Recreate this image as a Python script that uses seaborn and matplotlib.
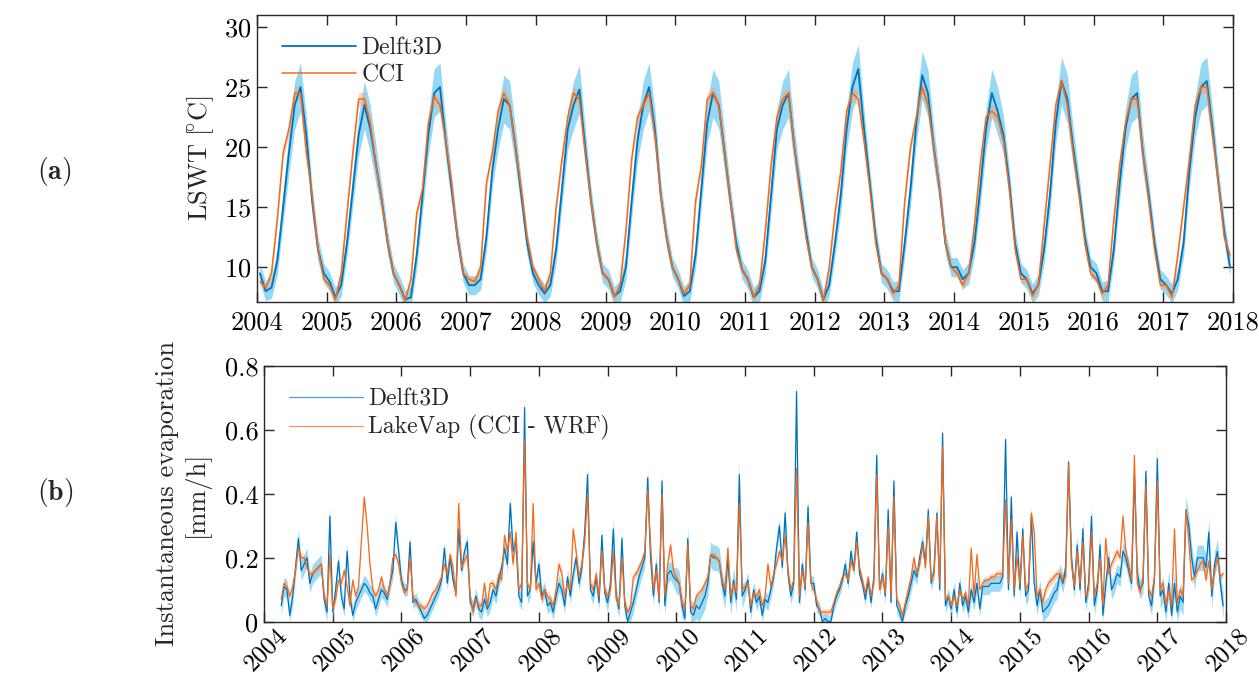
import matplotlib
matplotlib.use("Agg")
import matplotlib.pyplot as plt
import matplotlib.transforms as mtransforms
import pandas as pd
import seaborn as sns

# ---- data ----
years = list(range(2004, 2019))

# LSWT, monthly values Jan..Dec, 2004-2017
lswt_delft3d = [
    9.5, 8.0, 8.3, 10.5, 15.0, 19.5, 23.5, 25.0, 21.0, 15.5, 11.5, 9.5,   # 2004
    8.8, 7.5, 8.5, 12.0, 16.5, 21.0, 23.5, 21.5, 18.5, 15.5, 12.0, 9.5,   # 2005
    8.5, 7.3, 7.5, 11.0, 16.0, 21.0, 24.5, 25.0, 20.5, 16.5, 12.5, 9.5,   # 2006
    8.5, 8.5, 9.0, 12.5, 18.0, 21.5, 24.0, 23.5, 20.0, 16.0, 12.0, 9.5,   # 2007
    8.5, 7.8, 8.5, 11.5, 16.5, 21.5, 23.5, 24.8, 20.0, 15.5, 12.0, 9.5,   # 2008
    9.0, 7.6, 8.0, 10.0, 15.5, 20.5, 23.5, 25.0, 21.5, 16.0, 12.5, 10.0,  # 2009
    9.0, 7.6, 8.0, 11.0, 16.5, 22.0, 24.5, 23.5, 19.5, 15.5, 12.0, 9.8,   # 2010
    9.0, 7.5, 8.0, 10.5, 16.0, 21.5, 23.5, 24.5, 20.0, 16.5, 13.0, 10.0,  # 2011
    9.0, 7.3, 8.5, 12.0, 16.0, 21.5, 25.0, 26.5, 21.5, 17.0, 12.5, 9.5,   # 2012
    9.0, 8.0, 8.0, 12.0, 16.5, 22.0, 26.0, 24.5, 20.0, 16.5, 12.0, 10.0,  # 2013
    10.0, 9.0, 9.5, 12.0, 16.5, 21.5, 24.5, 23.0, 21.0, 17.0, 12.0, 9.5,  # 2014
    9.0, 7.8, 8.5, 11.5, 16.0, 22.0, 25.5, 24.0, 20.0, 16.5, 12.5, 10.0,  # 2015
    9.5, 8.0, 8.0, 11.5, 17.0, 21.5, 24.0, 24.5, 19.5, 16.0, 12.0, 9.0,   # 2016
    8.5, 7.8, 9.0, 12.0, 18.0, 22.5, 25.0, 25.5, 21.5, 17.0, 13.0, 10.0,  # 2017
]
lswt_cci = [
    8.8, 8.3, 9.5, 14.0, 19.5, 21.5, 24.5, 24.5, 19.5, 16.0, 11.5, 9.0,   # 2004
    8.5, 7.3, 9.5, 14.5, 19.5, 24.0, 24.0, 22.0, 18.5, 15.5, 12.0, 9.5,   # 2005
    8.5, 7.2, 9.0, 14.5, 16.5, 22.0, 24.2, 23.5, 20.5, 17.0, 12.5, 9.5,   # 2006
    9.0, 8.8, 10.0, 17.0, 19.5, 23.0, 24.5, 23.5, 20.0, 16.5, 12.5, 10.0, # 2007
    9.0, 8.0, 9.5, 15.0, 19.0, 22.5, 24.5, 24.0, 19.5, 15.5, 12.0, 9.5,   # 2008
    9.0, 7.5, 8.5, 13.0, 19.0, 22.5, 23.5, 24.5, 21.0, 16.0, 12.5, 10.0,  # 2009
    9.0, 7.8, 8.5, 15.5, 18.5, 24.0, 24.5, 23.5, 19.5, 15.5, 11.5, 9.8,   # 2010
    9.0, 7.5, 8.5, 13.0, 18.5, 22.5, 24.0, 24.5, 20.0, 16.0, 12.5, 10.0,  # 2011
    9.0, 7.2, 10.0, 14.5, 18.0, 23.0, 24.5, 24.0, 20.5, 16.5, 12.0, 9.5,  # 2012
    9.0, 7.8, 8.5, 15.5, 20.0, 22.5, 25.0, 23.5, 20.0, 16.5, 12.0, 10.0,  # 2013
    9.5, 8.5, 9.5, 13.5, 18.5, 22.5, 23.0, 22.5, 20.5, 16.5, 11.5, 9.0,   # 2014
    9.0, 7.6, 8.5, 13.5, 18.5, 23.5, 25.5, 23.5, 19.5, 16.0, 12.0, 9.5,   # 2015
    9.0, 7.8, 8.5, 14.0, 18.5, 22.0, 24.0, 24.0, 19.5, 15.5, 11.5, 8.5,   # 2016
    8.5, 7.5, 11.0, 15.0, 19.0, 23.5, 25.0, 25.0, 21.0, 17.0, 12.5, 11.0, # 2017
]
# half-width of the shaded range, by calendar month
lswt_spread_delft3d = [0.8, 0.8, 0.9, 1.1, 1.4, 1.7, 2.0, 2.0, 1.6, 1.2, 1.0, 0.8]
lswt_spread_cci = [0.3, 0.4, 0.5, 0.5, 0.5, 0.5, 0.6, 0.5, 0.4, 0.4, 0.3, 0.3]

# evaporation [mm/h], half-monthly values from April 2004 to end of 2017
evap_delft3d = [
    0.05, 0.11, 0.10, 0.02, 0.08, 0.17, 0.26, 0.16, 0.18, 0.20, 0.12, 0.15, 0.16, 0.17, 0.18, 0.07, 0.03, 0.33,  # 2004
    0.03, 0.10, 0.19, 0.08, 0.04, 0.22, 0.08, 0.02, 0.06, 0.08, 0.10, 0.12, 0.11, 0.09, 0.08, 0.04, 0.07, 0.10, 0.09, 0.07, 0.12, 0.16, 0.31, 0.22,  # 2005
    0.13, 0.10, 0.10, 0.25, 0.06, 0.07, 0.05, 0.03, 0.01, 0.02, 0.04, 0.06, 0.08, 0.10, 0.13, 0.23, 0.12, 0.20, 0.13, 0.09, 0.29, 0.16, 0.22, 0.25,  # 2006
    0.06, 0.04, 0.08, 0.04, 0.03, 0.07, 0.04, 0.06, 0.10, 0.08, 0.13, 0.17, 0.23, 0.18, 0.37, 0.22, 0.25, 0.08, 0.06, 0.67, 0.08, 0.10, 0.25, 0.12,  # 2007
    0.18, 0.08, 0.10, 0.05, 0.06, 0.03, 0.08, 0.12, 0.10, 0.05, 0.14, 0.08, 0.15, 0.20, 0.12, 0.17, 0.28, 0.46, 0.10, 0.08, 0.14, 0.06, 0.27, 0.09,  # 2008
    0.06, 0.12, 0.29, 0.08, 0.04, 0.26, 0.05, 0.00, 0.03, 0.06, 0.10, 0.14, 0.17, 0.20, 0.45, 0.20, 0.08, 0.18, 0.06, 0.44, 0.05, 0.15, 0.16, 0.14,  # 2009
    0.13, 0.12, 0.05, 0.01, 0.26, 0.03, 0.02, 0.05, 0.04, 0.06, 0.08, 0.12, 0.21, 0.20, 0.20, 0.19, 0.12, 0.08, 0.20, 0.06, 0.13, 0.07, 0.46, 0.08,  # 2010
    0.10, 0.13, 0.03, 0.10, 0.06, 0.08, 0.02, 0.07, 0.06, 0.10, 0.14, 0.23, 0.30, 0.17, 0.34, 0.15, 0.08, 0.12, 0.72, 0.06, 0.18, 0.10, 0.36, 0.12,  # 2011
    0.12, 0.05, 0.04, 0.00, 0.01, 0.00, 0.00, 0.05, 0.08, 0.10, 0.13, 0.18, 0.12, 0.22, 0.16, 0.28, 0.15, 0.12, 0.07, 0.13, 0.06, 0.14, 0.52, 0.10,  # 2012
    0.15, 0.08, 0.35, 0.06, 0.44, 0.05, 0.03, 0.00, 0.05, 0.08, 0.12, 0.16, 0.14, 0.20, 0.25, 0.18, 0.35, 0.12, 0.16, 0.34, 0.10, 0.59, 0.05, 0.08,  # 2013
    0.04, 0.10, 0.03, 0.12, 0.05, 0.08, 0.03, 0.10, 0.06, 0.12, 0.04, 0.11, 0.11, 0.11, 0.12, 0.12, 0.12, 0.12, 0.14, 0.57, 0.10, 0.39, 0.08, 0.28,  # 2014
    0.10, 0.29, 0.08, 0.10, 0.33, 0.12, 0.05, 0.10, 0.03, 0.04, 0.05, 0.07, 0.09, 0.10, 0.15, 0.12, 0.17, 0.50, 0.20, 0.10, 0.24, 0.10, 0.29, 0.06,  # 2015
    0.12, 0.33, 0.05, 0.10, 0.24, 0.02, 0.12, 0.20, 0.10, 0.12, 0.15, 0.14, 0.22, 0.20, 0.16, 0.12, 0.46, 0.15, 0.10, 0.12, 0.47, 0.08, 0.05, 0.14,  # 2016
    0.51, 0.08, 0.10, 0.03, 0.12, 0.02, 0.12, 0.03, 0.08, 0.06, 0.35, 0.30, 0.20, 0.14, 0.20, 0.20, 0.20, 0.17, 0.28, 0.08, 0.18, 0.22, 0.12, 0.05,  # 2017
]
evap_lakevap = [
    0.07, 0.12, 0.11, 0.08, 0.11, 0.16, 0.23, 0.20, 0.20, 0.17, 0.15, 0.15, 0.16, 0.17, 0.18, 0.08, 0.05, 0.21,  # 2004
    0.04, 0.07, 0.13, 0.12, 0.16, 0.11, 0.05, 0.13, 0.08, 0.11, 0.25, 0.39, 0.30, 0.18, 0.10, 0.08, 0.10, 0.14, 0.10, 0.08, 0.12, 0.20, 0.21, 0.18,  # 2005
    0.12, 0.09, 0.10, 0.20, 0.08, 0.06, 0.05, 0.05, 0.04, 0.05, 0.07, 0.09, 0.10, 0.12, 0.14, 0.18, 0.15, 0.21, 0.17, 0.08, 0.37, 0.17, 0.19, 0.21,  # 2006
    0.08, 0.03, 0.07, 0.05, 0.05, 0.12, 0.05, 0.12, 0.12, 0.10, 0.15, 0.13, 0.27, 0.22, 0.28, 0.18, 0.28, 0.10, 0.12, 0.57, 0.12, 0.10, 0.37, 0.10,  # 2007
    0.12, 0.07, 0.10, 0.08, 0.07, 0.05, 0.10, 0.18, 0.15, 0.08, 0.12, 0.10, 0.29, 0.22, 0.14, 0.18, 0.25, 0.40, 0.12, 0.10, 0.15, 0.08, 0.22, 0.10,  # 2008
    0.08, 0.10, 0.22, 0.07, 0.05, 0.20, 0.06, 0.03, 0.05, 0.14, 0.15, 0.17, 0.19, 0.22, 0.41, 0.24, 0.10, 0.16, 0.07, 0.40, 0.08, 0.18, 0.24, 0.16,  # 2009
    0.14, 0.12, 0.06, 0.04, 0.24, 0.05, 0.04, 0.08, 0.09, 0.10, 0.12, 0.14, 0.21, 0.21, 0.20, 0.19, 0.13, 0.10, 0.23, 0.08, 0.12, 0.09, 0.37, 0.10,  # 2010
    0.11, 0.12, 0.05, 0.09, 0.08, 0.10, 0.05, 0.08, 0.18, 0.11, 0.15, 0.18, 0.22, 0.19, 0.27, 0.16, 0.10, 0.13, 0.48, 0.08, 0.16, 0.11, 0.31, 0.12,  # 2011
    0.10, 0.07, 0.03, 0.03, 0.03, 0.03, 0.03, 0.06, 0.09, 0.11, 0.14, 0.15, 0.13, 0.19, 0.16, 0.25, 0.17, 0.13, 0.09, 0.14, 0.08, 0.12, 0.46, 0.10,  # 2012
    0.14, 0.09, 0.30, 0.08, 0.39, 0.07, 0.05, 0.02, 0.06, 0.10, 0.14, 0.20, 0.15, 0.18, 0.24, 0.17, 0.33, 0.13, 0.15, 0.33, 0.12, 0.55, 0.07, 0.08,  # 2013
    0.05, 0.08, 0.05, 0.10, 0.07, 0.09, 0.05, 0.23, 0.08, 0.21, 0.10, 0.12, 0.13, 0.13, 0.14, 0.14, 0.15, 0.15, 0.15, 0.38, 0.12, 0.32, 0.10, 0.20,  # 2014
    0.12, 0.27, 0.10, 0.12, 0.34, 0.28, 0.08, 0.10, 0.06, 0.10, 0.12, 0.13, 0.14, 0.15, 0.15, 0.13, 0.14, 0.49, 0.18, 0.11, 0.22, 0.12, 0.25, 0.08,  # 2015
    0.10, 0.28, 0.08, 0.12, 0.20, 0.05, 0.26, 0.15, 0.18, 0.20, 0.22, 0.20, 0.33, 0.22, 0.18, 0.13, 0.52, 0.12, 0.09, 0.14, 0.43, 0.10, 0.08, 0.14,  # 2016
    0.44, 0.10, 0.12, 0.05, 0.10, 0.05, 0.29, 0.06, 0.10, 0.08, 0.35, 0.25, 0.13, 0.14, 0.16, 0.18, 0.19, 0.13, 0.19, 0.10, 0.16, 0.20, 0.14, 0.15,  # 2017
]
# half-width of the shaded range, by year 2004..2017
evap_spread_delft3d = [0.03, 0.025, 0.02, 0.025, 0.025, 0.03, 0.04, 0.025, 0.02, 0.025, 0.025, 0.03, 0.03, 0.04]
evap_spread_lakevap = [0.012, 0.012, 0.012, 0.012, 0.015, 0.015, 0.012, 0.012, 0.01, 0.012, 0.012, 0.015, 0.015, 0.012]

BLUE = "#0072BD"
BLUE_BAND = "#4DBEEE"
ORANGE = "#F26A1B"
ORANGE_BAND = "#F8A46E"


def band_frame(t, vals, spreads):
    # three samples per time step -> median line + min/max band in seaborn
    rows = []
    for ti, v, s in zip(t, vals, spreads):
        for d in (-s, 0.0, s):
            rows.append((ti, max(v + d, 0.0)))
    return pd.DataFrame(rows, columns=["t", "v"])


t_month = [2004 + (i + 0.5) / 12 for i in range(len(lswt_delft3d))]
df_lswt_d = band_frame(t_month, lswt_delft3d, [lswt_spread_delft3d[i % 12] for i in range(len(t_month))])
df_lswt_c = band_frame(t_month, lswt_cci, [lswt_spread_cci[i % 12] for i in range(len(t_month))])

t_half = [2004.25 + k / 24 for k in range(len(evap_delft3d))]
df_evap_d = band_frame(t_half, evap_delft3d, [evap_spread_delft3d[int(t - 2004)] for t in t_half])
df_evap_l = band_frame(t_half, evap_lakevap, [evap_spread_lakevap[int(t - 2004)] for t in t_half])

sns.set_style("ticks")
plt.rcParams["font.family"] = ["cmr10", "DejaVu Serif"]
plt.rcParams["mathtext.fontset"] = "cm"
plt.rcParams["axes.formatter.use_mathtext"] = True
plt.rcParams["axes.unicode_minus"] = False

fig = plt.figure(figsize=(12.59, 6.79), dpi=100)
ax1 = fig.add_axes([0.2041, 0.5552, 0.7752, 0.4227])
ax2 = fig.add_axes([0.2097, 0.0844, 0.7641, 0.3766])


def draw(ax, df, color, band, lw, label, band_alpha):
    sns.lineplot(data=df, x="t", y="v", estimator="median", errorbar=("pi", 100),
                 color=color, lw=lw, label=label, ax=ax,
                 err_kws={"alpha": band_alpha, "linewidth": 0})
    ax.collections[-1].set_facecolor(band)


# (a) LSWT
draw(ax1, df_lswt_d, BLUE, BLUE_BAND, 1.3, "Delft3D", 0.6)
draw(ax1, df_lswt_c, ORANGE, ORANGE_BAND, 1.1, "CCI", 0.5)
ax1.set_xlim(2004, 2018)
ax1.set_ylim(7.1, 31)
ax1.set_yticks([10, 15, 20, 25, 30])
ax1.set_xticks(years)
ax1.set_xticklabels([str(y) for y in years])
ax1.set_xlabel("")
ax1.set_ylabel(r"$\mathrm{LSWT}\ [\!{}^{\circ}\mathrm{C}]$", fontsize=19, labelpad=6)
ax1.legend(loc="upper left", bbox_to_anchor=(0.003, 1.0), frameon=False, fontsize=17,
           handlelength=3.1, handletextpad=0.25, labelspacing=0.2, borderaxespad=0.55)

# (b) evaporation
draw(ax2, df_evap_d, BLUE, BLUE_BAND, 0.9, "Delft3D", 0.55)
draw(ax2, df_evap_l, ORANGE, ORANGE_BAND, 0.9, "LakeVap (CCI - WRF)", 0.45)
ax2.set_xlim(2004, 2018)
ax2.set_ylim(0, 0.8)
ax2.set_yticks([0, 0.2, 0.4, 0.6, 0.8])
ax2.set_yticklabels(["0", "0.2", "0.4", "0.6", "0.8"])
ax2.set_xticks(years)
ax2.set_xticklabels([str(y) for y in years], rotation=45, ha="right", rotation_mode="anchor")
ax2.set_xlabel("")
ax2.set_ylabel("Instantaneous evaporation\n[mm/h]", fontsize=19, labelpad=11, linespacing=1.15)
leg2 = ax2.legend(loc="upper left", bbox_to_anchor=(0.003, 1.0), frameon=False, fontsize=17,
                  handlelength=3.1, handletextpad=0.25, labelspacing=0.2, borderaxespad=0.55)
for h in leg2.get_lines():
    h.set_alpha(0.7)

for ax in (ax1, ax2):
    ax.tick_params(direction="in", length=7, width=1, top=True, right=True,
                   labelsize=19, colors="#262626", pad=6)
    ax.tick_params(axis="x", labelcolor="black")
    ax.tick_params(axis="y", labelcolor="black", pad=4)
    for sp in ax.spines.values():
        sp.set_visible(True)
        sp.set_color("#262626")
        sp.set_linewidth(1.0)

# rotated labels of (b): a bit smaller and nudged right, as in the original
ax2.tick_params(axis="x", labelsize=18, pad=2)
shift = mtransforms.ScaledTranslation(12 / 100, 0, fig.dpi_scale_trans)
for lab in ax2.get_xticklabels():
    lab.set_transform(lab.get_transform() + shift)

fig.text(0.029, 0.747, r"($\mathbf{a}$)", fontsize=20, va="center")
fig.text(0.029, 0.275, r"($\mathbf{b}$)", fontsize=20, va="center")

fig.savefig("out.png", dpi=100, facecolor="white")
